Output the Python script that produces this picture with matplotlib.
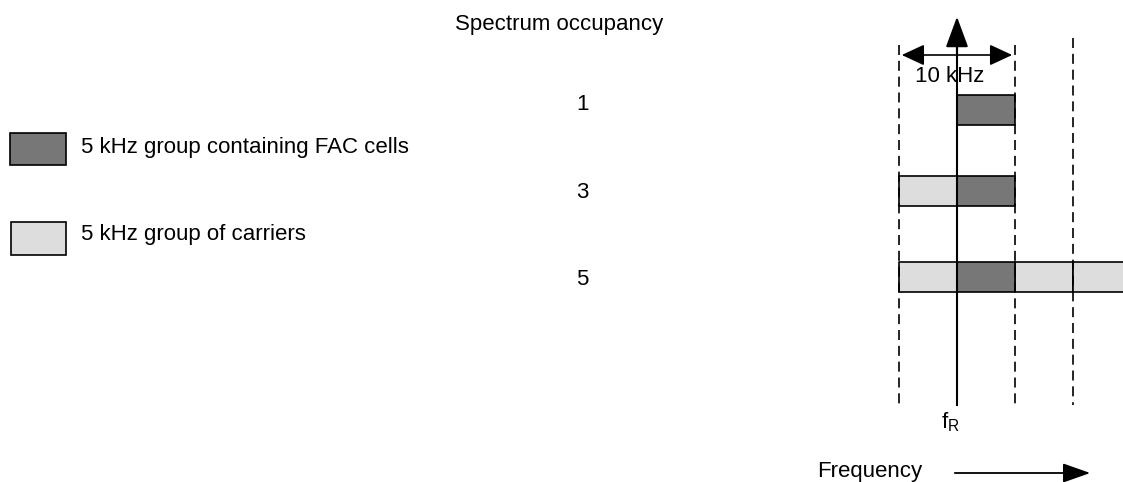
import matplotlib.pyplot as plt

plt.rcParams['font.family'] = ['Liberation Sans', 'DejaVu Sans']

# dados do diagrama (frequências em kHz relativas a fR)
ocupacao = ['1', '3', '5']
blocos_fac = [[0], [0], [0]]
blocos_portadoras = [[], [-5], [-5, 5, 10]]
largura_grupo = 5
linhas_guia = [-5, 5, 10]

cor_fac = '#777777'
cor_port = '#dddddd'

fig = plt.figure(figsize=(11.23, 4.82), dpi=100)

# eixo de fundo em pixels para os textos
ax = fig.add_axes([0, 0, 1, 1])
ax.set_xlim(0, 1123)
ax.set_ylim(482, 0)
ax.axis('off')

fs = 16
ax.text(559, 30, 'Spectrum occupancy', ha='center', va='baseline', fontsize=fs)
linha_y = [110, 191, 277]
texto_y = [110, 198, 285]
for lab, y in zip(ocupacao, texto_y):
    ax.text(582, y, lab, ha='center', va='baseline', fontsize=fs)

ax.add_patch(plt.Rectangle((10, 133), 56, 32, facecolor=cor_fac, edgecolor='black', lw=1.2))
ax.text(81, 153, '5 kHz group containing FAC cells', ha='left', va='baseline', fontsize=fs)
ax.add_patch(plt.Rectangle((11, 222), 55, 33, facecolor=cor_port, edgecolor='black', lw=1.2))
ax.text(81, 240, '5 kHz group of carriers', ha='left', va='baseline', fontsize=fs)

ax.text(817, 477, 'Frequency', ha='left', va='baseline', fontsize=fs)
ax.annotate('', xy=(1093, 473), xytext=(952, 473),
            arrowprops=dict(arrowstyle='-|>,head_length=1.7,head_width=0.6', color='black', lw=1.3))

# eixo do espectro: x em kHz, y em pixels
px_khz = 11.6
x0 = 880
sp = fig.add_axes([x0 / 1123, 0, 243 / 1123, 1])
sp.set_xlim((x0 - 957) / px_khz, (1123 - 957) / px_khz)
sp.set_ylim(482, 0)
sp.axis('off')

for f in linhas_guia:
    topo = 38 if f == 10 else 45
    sp.plot([f, f], [topo, 405], color='black', lw=1.2, ls=(0, (6, 3.5)))

altura = 30
for i, y in enumerate(linha_y):
    if blocos_portadoras[i]:
        sp.broken_barh([(s, largura_grupo) for s in blocos_portadoras[i]], (y - 15, altura),
                       facecolors=cor_port, edgecolors='black', lw=1.2)
    sp.broken_barh([(s, largura_grupo) for s in blocos_fac[i]], (y - 15, altura),
                   facecolors=cor_fac, edgecolors='black', lw=1.2)

# eixo vertical em fR
sp.plot([0, 0], [30, 405], color='black', lw=1.5)
sp.annotate('', xy=(0, 14), xytext=(0, 60),
            arrowprops=dict(arrowstyle='-|>,head_length=1.9,head_width=0.7', color='black', lw=1.5))
sp.annotate('', xy=(-5, 55), xytext=(5, 55),
            arrowprops=dict(arrowstyle='<|-|>,head_length=1.4,head_width=0.65', color='black', lw=1.2))
sp.text(-0.6, 82, '10 kHz', ha='center', va='baseline', fontsize=fs)
sp.text(-0.6, 428, r'f$_\mathregular{R}$', ha='center', va='baseline', fontsize=fs)

fig.savefig('out.png', dpi=100)
